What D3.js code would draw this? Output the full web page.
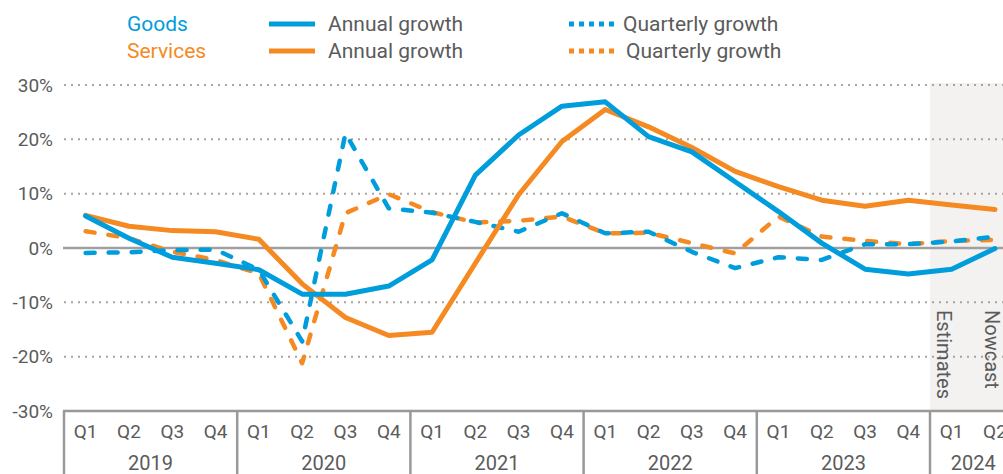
<!DOCTYPE html>
<html>
<head>
<meta charset="utf-8">
<script src="https://cdn.jsdelivr.net/npm/d3@7"></script>
<style>
  body { margin: 0; background: #fff; }
  svg { display: block; font-family: Roboto, "Liberation Sans", sans-serif; }
</style>
</head>
<body>
<div class="chart"></div>
<script>
// data
const years = ["2019", "2020", "2021", "2022", "2023", "2024"];
const quarterNames = ["Q1", "Q2", "Q3", "Q4"];
const quartersPerYear = [4, 4, 4, 4, 4, 2];
const estimateStart = "2024 Q1";
const yTicks = [-30, -20, -10, 0, 10, 20, 30];

const goodsAnnual = [5.9, 1.8, -1.7, -2.8, -4.0, -8.5, -8.5, -7.0, -2.2, 13.4, 20.8, 26.1, 26.9, 20.5, 17.7, 12.2, 6.7, 0.9, -3.9, -4.8, -3.9, -0.1];
const servicesAnnual = [6.0, 4.0, 3.2, 3.0, 1.6, -6.6, -12.8, -16.1, -15.5, -2.8, 9.8, 19.6, 25.5, 22.3, 18.5, 14.1, 11.3, 8.8, 7.7, 8.8, 7.9, 7.1];
const goodsQuarterly = [-0.9, -0.8, -0.4, -0.3, -4.0, -17.2, 21.1, 7.3, 6.5, 4.8, 3.0, 6.4, 2.7, 3.0, -0.7, -3.7, -1.7, -2.2, 0.7, 0.7, 1.2, 2.1];
const servicesQuarterly = [3.1, 1.8, -0.7, -2.2, -4.7, -21.2, 6.4, 9.9, 6.6, 4.7, 5.0, 5.8, 2.7, 2.8, 0.9, -1.0, 5.8, 2.1, 1.3, 0.7, 1.3, 1.5];

const blue = "#009ddc";
const orange = "#f58a22";
const grey = "#5b5b5b";

// periods built from years and quarters
const periods = [];
years.forEach((yr, i) => {
    quarterNames.slice(0, quartersPerYear[i]).forEach(q => periods.push({ key: yr + " " + q, year: yr, q: q }));
});

const W = 1003, H = 474;
const margin = ({top: 85, left: 64, bottom: 63});
const step = 43.3;

const svg = d3.select(".chart")
    .append("svg")
    .attr("width", W)
    .attr("height", H);

const x = d3.scaleBand()
    .domain(periods.map(d => d.key))
    .range([margin.left, margin.left + step * periods.length]);
const y = d3.scaleLinear()
    .domain([-30, 30])
    .range([H - margin.bottom, margin.top]);
const cx = k => x(k) + x.bandwidth() / 2;

// title (mostly cut off at the top)
svg.append("text")
    .attr("x", 100)
    .attr("y", -7)
    .attr("font-size", 28)
    .attr("font-weight", "bold")
    .attr("fill", "#333")
    .text("Developments in quarterly growth of goods and services trade");

// estimates shading
svg.append("rect")
    .attr("x", x(estimateStart))
    .attr("y", y(30) - 2)
    .attr("width", W - x(estimateStart))
    .attr("height", y(-30) - y(30) + 2)
    .attr("fill", "#f3f2f0");

// gridlines
svg.append("g")
    .selectAll("line")
    .data(yTicks.filter(d => d !== 0 && d !== -30))
    .join("line")
    .attr("x1", margin.left)
    .attr("x2", W)
    .attr("y1", d => y(d))
    .attr("y2", d => y(d))
    .attr("stroke", "#aaa49c")
    .attr("stroke-width", 2)
    .attr("stroke-dasharray", "2,5");

svg.append("line")
    .attr("x1", margin.left - 1)
    .attr("x2", W)
    .attr("y1", y(0))
    .attr("y2", y(0))
    .attr("stroke", "#a0a0a0")
    .attr("stroke-width", 2.5);

// y axis labels
const yAxis = d3.axisLeft(y)
    .tickValues(yTicks)
    .tickSize(0)
    .tickPadding(11)
    .tickFormat(d => d + "%");
const yAxisDisplay = svg.append("g")
    .attr("transform", `translate(${margin.left},0)`)
    .call(yAxis);
yAxisDisplay.select(".domain").remove();
yAxisDisplay.selectAll("text")
    .attr("font-family", "Roboto")
    .attr("font-size", 19)
    .attr("fill", grey);

// x axis box
const axisG = svg.append("g");
axisG.append("line")
    .attr("x1", margin.left - 1)
    .attr("x2", W)
    .attr("y1", y(-30))
    .attr("y2", y(-30))
    .attr("stroke", "#999")
    .attr("stroke-width", 2.5);

const yearStarts = years.map(yr => periods.find(p => p.year === yr).key);
axisG.selectAll(".sep")
    .data(yearStarts)
    .join("line")
    .attr("class", "sep")
    .attr("x1", d => x(d))
    .attr("x2", d => x(d))
    .attr("y1", y(-30))
    .attr("y2", H)
    .attr("stroke", "#999")
    .attr("stroke-width", 2.5);

axisG.selectAll(".qlab")
    .data(periods)
    .join("text")
    .attr("class", "qlab")
    .attr("x", d => cx(d.key))
    .attr("y", 438)
    .attr("text-anchor", "middle")
    .attr("font-size", 19)
    .attr("fill", grey)
    .text(d => d.q);

axisG.selectAll(".ylab")
    .data(years)
    .join("text")
    .attr("class", "ylab")
    .attr("x", yr => {
        const ps = periods.filter(p => p.year === yr);
        return (x(ps[0].key) + x(ps[ps.length - 1].key) + x.bandwidth()) / 2;
    })
    .attr("y", 470)
    .attr("text-anchor", "middle")
    .attr("font-size", 20)
    .attr("fill", grey)
    .text(d => d);

// series lines
const line = d3.line()
    .x((d, i) => cx(periods[i].key))
    .y(d => y(d));

const series = [
    { values: servicesQuarterly, color: orange, dash: "9,14", width: 4.5 },
    { values: goodsQuarterly, color: blue, dash: "9,14", width: 4.5 },
    { values: servicesAnnual, color: orange, dash: null, width: 5 },
    { values: goodsAnnual, color: blue, dash: null, width: 5 }
];

svg.append("g")
    .selectAll("path")
    .data(series)
    .join("path")
    .attr("d", d => line(d.values))
    .attr("fill", "none")
    .attr("stroke", d => d.color)
    .attr("stroke-width", d => d.width)
    .attr("stroke-linecap", "round")
    .attr("stroke-linejoin", "round")
    .attr("stroke-dasharray", d => d.dash);

// vertical labels in the shaded area
const vlabels = [
    { key: "2024 Q1", text: "Estimates", dx: -15 },
    { key: "2024 Q2", text: "Nowcast", dx: -10 }
];
svg.selectAll(".vlab")
    .data(vlabels)
    .join("text")
    .attr("class", "vlab")
    .attr("transform", d => `translate(${cx(d.key) + d.dx},310) rotate(90)`)
    .attr("font-size", 20)
    .attr("fill", grey)
    .text(d => d.text);

// legend
const legend = svg.append("g");
const legendRows = [
    { name: "Goods", color: blue, y: 31 },
    { name: "Services", color: orange, y: 58 }
];
legend.selectAll(".lname")
    .data(legendRows)
    .join("text")
    .attr("class", "lname")
    .attr("x", 127)
    .attr("y", d => d.y)
    .attr("font-size", 21)
    .attr("fill", d => d.color)
    .text(d => d.name);

legend.selectAll(".lsolid")
    .data(legendRows)
    .join("line")
    .attr("class", "lsolid")
    .attr("x1", 269).attr("x2", 315)
    .attr("y1", d => d.y - 7).attr("y2", d => d.y - 7)
    .attr("stroke", d => d.color)
    .attr("stroke-width", 5);

legend.selectAll(".ldot")
    .data(legendRows)
    .join("line")
    .attr("class", "ldot")
    .attr("x1", 569).attr("x2", 615)
    .attr("y1", d => d.y - 7).attr("y2", d => d.y - 7)
    .attr("stroke", d => d.color)
    .attr("stroke-width", 5)
    .attr("stroke-dasharray", "5,5");

legend.selectAll(".lann")
    .data(legendRows)
    .join("text")
    .attr("class", "lann")
    .attr("x", 328)
    .attr("y", d => d.y)
    .attr("font-size", 21)
    .attr("fill", grey)
    .text("Annual growth");

legend.selectAll(".lqua")
    .data(legendRows)
    .join("text")
    .attr("class", "lqua")
    .attr("x", (d, i) => 623 + i * 3)
    .attr("y", d => d.y)
    .attr("font-size", 21)
    .attr("fill", grey)
    .text("Quarterly growth");
</script>
</body>
</html>
